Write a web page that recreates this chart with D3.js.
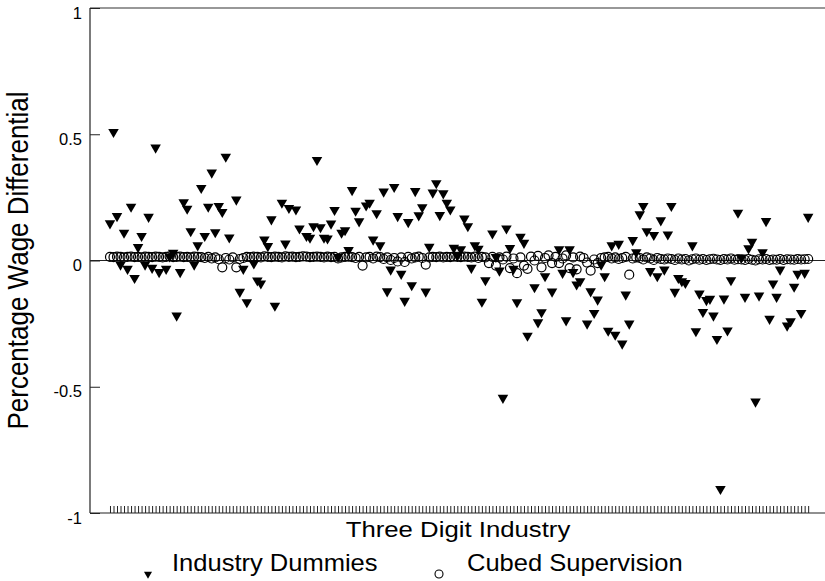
<!DOCTYPE html>
<html>
<head>
<meta charset="utf-8">
<script src="https://cdn.jsdelivr.net/npm/d3@7"></script>
<style>
  html, body { margin: 0; padding: 0; background: #fff; }
  svg { display: block; font-family: "Liberation Sans", Arial, sans-serif; }
</style>
</head>
<body>
<div id="chart"></div>
<script>
// Industry wage differentials by three digit industry
const N_INDUSTRIES = 200;

const yTicks = [1, 0.5, 0, -0.5, -1];
const yTickLabels = ["1", "0.5", "0", "-0.5", "-1"];

// Industry dummies: [industry index, differential]
const dummyIdx = [
  0, 1, 2, 3, 4, 5, 6, 7, 8, 9, 10, 11, 12, 13, 14, 16, 17, 18, 19, 20,
  21, 22, 23, 24, 25, 26, 27, 28, 29, 30, 31, 32, 33, 34, 36, 37, 38, 39, 41, 42,
  43, 44, 45, 46, 47, 49, 50, 51, 53, 54, 56, 57, 58, 59, 60, 61, 62, 63, 64, 65,
  66, 67, 68, 69, 70, 71, 73, 74, 75, 76, 77, 78, 79, 80, 81, 82, 83, 84, 85, 86,
  87, 88, 89, 90, 91, 92, 93, 94, 95, 96, 97, 98, 99, 100, 101, 102, 103, 104, 105, 106,
  107, 109, 110, 111, 112, 113, 114, 115, 116, 117, 118, 119, 121, 122, 123, 124, 126, 128, 129, 130,
  131, 132, 133, 134, 136, 137, 138, 139, 140, 141, 142, 143, 144, 145, 146, 147, 148, 149, 150, 151,
  152, 153, 154, 155, 156, 157, 158, 159, 160, 161, 162, 163, 164, 166, 167, 168, 169, 170, 171, 172,
  173, 174, 175, 176, 177, 179, 180, 181, 182, 183, 184, 185, 186, 187, 188, 189, 190, 191, 193, 194,
  195, 196, 197, 198, 199
];
const dummyVal = [
  0.143, 0.505, 0.172, -0.020, 0.106, -0.037, 0.209, -0.073, 0.049, 0.093, -0.020, 0.169, -0.033, 0.443, -0.050, -0.037, 0.012, 0.027, -0.222, -0.050,
  0.227, 0.201, 0.112, -0.020, 0.056, 0.283, 0.093, 0.209, 0.344, 0.108, 0.212, 0.188, 0.407, 0.087, 0.237, -0.128, -0.037, -0.169, -0.016, -0.083,
  -0.095, 0.079, 0.053, 0.159, -0.183, 0.225, 0.063, 0.204, 0.198, 0.123, 0.093, 0.086, 0.132, 0.394, 0.128, 0.086, 0.083, 0.142, 0.196, 0.010,
  0.106, 0.116, 0.037, 0.275, 0.193, 0.151, 0.214, 0.225, 0.079, 0.183, 0.056, 0.269, -0.126, -0.040, 0.287, 0.172, -0.057, -0.164, 0.148, -0.102,
  0.271, 0.175, 0.207, -0.127, 0.050, 0.265, 0.302, 0.176, 0.262, 0.225, 0.198, 0.046, 0.015, 0.040, 0.162, 0.132, -0.033, 0.056, 0.042, -0.167,
  -0.082, 0.103, 0.010, -0.044, -0.548, 0.123, 0.045, -0.037, -0.169, 0.090, 0.066, -0.302, -0.110, -0.249, -0.209, -0.066, -0.127, 0.040, -0.053, -0.241,
  0.040, -0.050, -0.099, -0.086, -0.254, -0.126, -0.212, -0.159, -0.020, -0.066, -0.282, 0.056, -0.298, 0.062, -0.333, -0.139, -0.254, 0.077, 0.029, 0.179,
  0.212, 0.112, -0.046, 0.097, -0.066, 0.155, -0.040, 0.099, 0.212, -0.128, -0.073, -0.086, -0.093, 0.056, -0.284, -0.135, -0.208, -0.161, -0.156, -0.222,
  -0.315, -0.909, -0.155, -0.281, -0.082, 0.185, 0.008, -0.148, 0.044, 0.070, -0.563, -0.143, 0.029, 0.152, -0.235, -0.095, -0.148, -0.040, -0.262, -0.245,
  -0.108, -0.057, -0.212, -0.053, 0.169
];

// Cubed supervision: one value per industry
const cubedVal = [
  0.014, 0.013, 0.015, 0.014, 0.012, 0.014, 0.015, 0.013, 0.014, 0.012, 0.015, 0.014, 0.013, 0.015, 0.014, 0.012, 0.014, 0.016, 0.013, 0.014,
  0.015, 0.013, 0.014, 0.012, 0.015, 0.014, 0.013, 0.010, 0.014, 0.008, 0.012, 0.005, -0.027, 0.010, 0.004, 0.012, -0.027, 0.006, 0.010, 0.014,
  0.013, 0.015, 0.014, 0.012, 0.016, 0.014, 0.013, 0.015, 0.014, 0.012, 0.016, 0.014, 0.015, 0.013, 0.014, 0.016, 0.015, 0.013, 0.014, 0.015,
  0.014, 0.012, 0.015, 0.013, 0.014, 0.008, 0.012, 0.014, 0.015, 0.013, 0.010, 0.014, -0.020, 0.012, 0.014, 0.008, 0.015, 0.013, 0.006, 0.012,
  0.002, 0.010, -0.004, 0.012, -0.006, 0.014, 0.008, 0.012, 0.015, 0.010, -0.016, 0.012, 0.014, 0.013, 0.015, 0.012, 0.014, 0.013, 0.015, 0.014,
  0.013, 0.015, 0.014, 0.012, 0.015, 0.010, 0.014, 0.012, -0.010, 0.014, -0.020, 0.012, 0.004, 0.015, -0.030, 0.008, -0.050, 0.012, -0.020, -0.033,
  0.015, 0.000, 0.018, -0.027, 0.010, 0.020, -0.010, 0.014, -0.010, 0.008, 0.020, -0.030, 0.012, -0.035, 0.015, 0.010, -0.008, -0.040, 0.004, -0.010,
  0.010, 0.012, 0.014, 0.008, 0.012, 0.006, 0.010, 0.014, -0.056, 0.008, 0.012, 0.010, 0.004, 0.012, 0.008, 0.002, 0.010, 0.006, 0.004, 0.008,
  0.006, 0.002, 0.008, 0.004, 0.006, 0.000, 0.005, 0.008, 0.003, 0.006, 0.002, 0.005, 0.007, 0.004, 0.002, 0.006, 0.004, 0.008, 0.003, 0.005,
  0.004, 0.002, 0.006, 0.003, 0.000, 0.005, 0.004, 0.006, 0.002, 0.004, 0.003, 0.006, 0.002, 0.005, 0.004, 0.003, 0.006, 0.004, 0.005, 0.006
];

const W = 825, H = 581;
const margin = { top: 8, right: 0, bottom: 68, left: 90 };
const innerW = W - margin.left - margin.right;
const innerH = H - margin.top - margin.bottom;

const svg = d3.select("#chart").append("svg")
  .attr("width", W)
  .attr("height", H);

const g = svg.append("g")
  .attr("transform", `translate(${margin.left},${margin.top})`);

const industries = d3.range(N_INDUSTRIES);

const x = d3.scaleLinear()
  .domain([-5.7, 203.8])
  .range([0, innerW]);

const y = d3.scaleLinear()
  .domain([-1, 1])
  .range([innerH, 0]);

// frame: left, top, bottom (no right side)
g.append("line").attr("x1", 0).attr("x2", 0).attr("y1", 0).attr("y2", innerH)
  .attr("stroke", "#222").attr("stroke-width", 1.2);
g.append("line").attr("x1", 0).attr("x2", innerW).attr("y1", 0).attr("y2", 0)
  .attr("stroke", "#333").attr("stroke-width", 1.2);
g.append("line").attr("x1", 0).attr("x2", innerW).attr("y1", innerH).attr("y2", innerH)
  .attr("stroke", "#222").attr("stroke-width", 1.2);

// zero line
g.append("line").attr("x1", 0).attr("x2", innerW).attr("y1", y(0)).attr("y2", y(0))
  .attr("stroke", "#222").attr("stroke-width", 1);

// y axis, ticks pointing inward
const yAxis = d3.axisLeft(y)
  .tickValues(yTicks)
  .tickSize(-10)
  .tickPadding(8)
  .tickFormat((d, i) => yTickLabels[i]);

const yg = g.append("g").call(yAxis);
yg.select(".domain").remove();
yg.selectAll(".tick line").attr("stroke", "#222").attr("stroke-width", 1);
yg.selectAll(".tick text")
  .attr("font-size", 16.5)
  .attr("dy", "0.62em")
  .attr("fill", "#000")
  .attr("font-family", "Liberation Sans, Arial, sans-serif");

// x axis: one small tick per industry
const xAxis = d3.axisBottom(x)
  .tickValues(industries)
  .tickSize(-7)
  .tickFormat("");

const xg = g.append("g")
  .attr("transform", `translate(0,${innerH})`)
  .call(xAxis);
xg.select(".domain").remove();
xg.selectAll(".tick line").attr("stroke", "#222").attr("stroke-width", 1);

// cubed supervision: hollow circles
g.append("g").selectAll("circle")
  .data(cubedVal)
  .join("circle")
  .attr("cx", (d, i) => x(i))
  .attr("cy", d => y(d))
  .attr("r", 4.5)
  .attr("fill", "none")
  .attr("stroke", "#000")
  .attr("stroke-width", 1.2);

// industry dummies: filled down triangles
const tri = d3.symbol().type(d3.symbolTriangle).size(48);
g.append("g").selectAll("path")
  .data(dummyVal)
  .join("path")
  .attr("d", tri)
  .attr("transform", (d, i) => `translate(${x(dummyIdx[i])},${y(d) - 1}) rotate(180)`)
  .attr("fill", "#000");

// axis titles
svg.append("text")
  .attr("transform", `translate(28,${margin.top + y(0)}) scale(1.1,1) rotate(-90)`)
  .attr("text-anchor", "middle")
  .attr("font-size", 26)
  .attr("fill", "#000")
  .text("Percentage Wage Differential");

svg.append("text")
  .attr("transform", "translate(458,537) scale(1.12,1)")
  .attr("text-anchor", "middle")
  .attr("font-size", 23)
  .attr("fill", "#000")
  .text("Three Digit Industry");

// legend
const legend = svg.append("g");
legend.append("path")
  .attr("d", d3.symbol().type(d3.symbolTriangle).size(28))
  .attr("transform", "translate(148,574) rotate(180)")
  .attr("fill", "#000");
legend.append("text")
  .attr("transform", "translate(172,571) scale(1.11,1)")
  .attr("font-size", 23)
  .attr("fill", "#000")
  .text("Industry Dummies");
legend.append("circle")
  .attr("cx", 439).attr("cy", 574).attr("r", 4)
  .attr("fill", "none").attr("stroke", "#000").attr("stroke-width", 1.1);
legend.append("text")
  .attr("transform", "translate(467,571) scale(1.11,1)")
  .attr("font-size", 23)
  .attr("fill", "#000")
  .text("Cubed Supervision");
</script>
</body>
</html>
